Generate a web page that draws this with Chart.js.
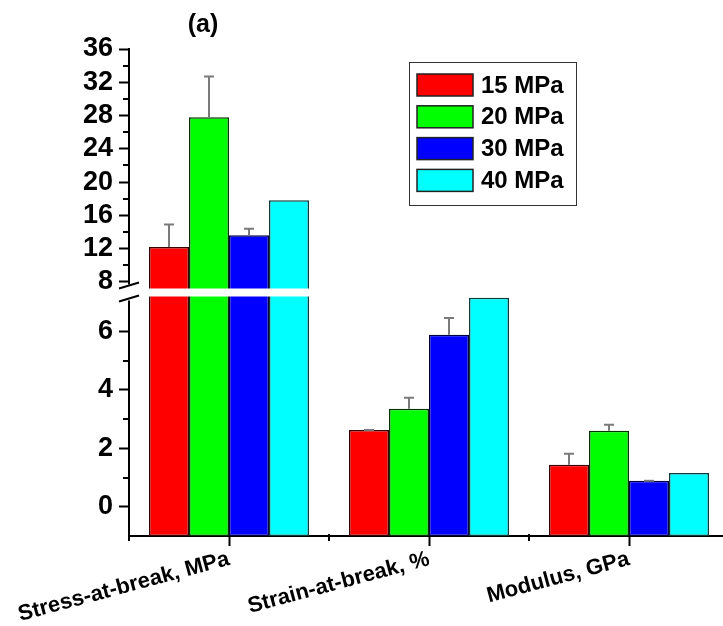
<!DOCTYPE html>
<html>
<head>
<meta charset="utf-8">
<title>Tensile properties</title>
<script src="https://cdn.jsdelivr.net/npm/chart.js@4.4.0/dist/chart.umd.min.js"></script>
<style>
  html, body { margin: 0; padding: 0; background: #fff; overflow: hidden; }
  #wrap { width: 723px; height: 626px; overflow: hidden; }
</style>
</head>
<body>
<div id="wrap"><canvas id="myChart" width="729" height="626"></canvas></div>
<script>
const categories = ['Stress-at-break, MPa', 'Strain-at-break, %', 'Modulus, GPa'];
const seriesNames = ['15 MPa', '20 MPa', '30 MPa', '40 MPa'];

const values15 = [12.2, 2.63, 1.44];
const values20 = [27.8, 3.36, 2.60];
const values30 = [13.6, 5.89, 0.89];
const values40 = [17.8, 7.16, 1.16];

const errors15 = [2.7, 0.0, 0.38];
const errors20 = [4.9, 0.37, 0.21];
const errors30 = [0.8, 0.57, 0.0];
const errors40 = [null, null, null];

const lowerTicks = [0, 2, 4, 6];
const upperTicks = [8, 12, 16, 20, 24, 28, 32, 36];
const lowerMinorTicks = [1, 3, 5];
const upperMinorTicks = [10, 14, 18, 22, 26, 30, 34];

const fills = ['#ff0000', '#00ff00', '#0000ff', '#00ffff'];
const edges = ['#3a0000', '#003300', '#000040', '#0d3b3b'];
const FONT = 'Liberation Sans, Arial, sans-serif';

// linear axis with a break: lower part min..breakAt, upper part breakAt..max
class BrokenLinearScale extends Chart.LinearScale {
  buildTicks() {
    super.buildTicks();
    return lowerTicks.concat(upperTicks).map(v => ({ value: v }));
  }
  segments() {
    const gap = this.options.breakGap;
    const lowerSpan = (this.bottom - this.top - gap) * this.options.lowerShare;
    const lowTop = this.bottom - lowerSpan;
    return { lowTop: lowTop, highBottom: lowTop - gap };
  }
  getPixelForValue(value) {
    if (value === null || value === undefined || isNaN(value)) return NaN;
    const b = this.options.breakAt;
    const s = this.segments();
    if (value <= b) {
      return this.bottom - (value - this.min) / (b - this.min) * (this.bottom - s.lowTop);
    }
    return s.highBottom - (value - b) / (this.max - b) * (s.highBottom - this.top);
  }
  getValueForPixel(pixel) {
    const b = this.options.breakAt;
    const s = this.segments();
    if (pixel >= s.lowTop) {
      return this.min + (this.bottom - pixel) / (this.bottom - s.lowTop) * (b - this.min);
    }
    return b + (s.highBottom - pixel) / (s.highBottom - this.top) * (this.max - b);
  }
}
BrokenLinearScale.id = 'brokenLinear';
BrokenLinearScale.defaults = {};
Chart.register(BrokenLinearScale);

const errorSets = [errors15, errors20, errors30, errors40];

const extras = {
  id: 'extras',
  afterDatasetsDraw(chart) {
    const ctx = chart.ctx;
    const y = chart.scales.y;
    const area = chart.chartArea;
    const s = y.segments();

    // white band across the break
    ctx.save();
    ctx.fillStyle = '#fff';
    ctx.fillRect(area.left + 2, s.highBottom, area.right - area.left, s.lowTop - s.highBottom);
    ctx.fillRect(area.left - 3, s.highBottom - 4, 6, s.lowTop - s.highBottom + 8);
    ctx.strokeStyle = '#000';
    ctx.lineWidth = 2;
    ctx.beginPath();
    ctx.moveTo(area.left - 10, s.highBottom);
    ctx.lineTo(area.left + 10, s.highBottom - 6);
    ctx.moveTo(area.left - 10, s.lowTop + 5);
    ctx.lineTo(area.left + 10, s.lowTop - 1);
    ctx.stroke();
    ctx.restore();

    // error whiskers
    ctx.save();
    ctx.strokeStyle = '#7a7a7a';
    ctx.lineWidth = 2;
    chart.data.datasets.forEach((ds, di) => {
      const meta = chart.getDatasetMeta(di);
      meta.data.forEach((bar, i) => {
        const err = errorSets[di][i];
        if (err === null) return;
        const top = y.getPixelForValue(ds.data[i] + err);
        ctx.beginPath();
        ctx.moveTo(bar.x, bar.y);
        ctx.lineTo(bar.x, top);
        ctx.moveTo(bar.x - 5, top);
        ctx.lineTo(bar.x + 5, top);
        ctx.stroke();
      });
    });
    ctx.restore();
  },
  afterDraw(chart) {
    const ctx = chart.ctx;
    const y = chart.scales.y;
    const x = chart.scales.x;
    const area = chart.chartArea;

    // minor ticks
    ctx.save();
    ctx.strokeStyle = '#000';
    ctx.lineWidth = 2;
    ctx.beginPath();
    lowerMinorTicks.concat(upperMinorTicks).forEach(v => {
      const py = Math.round(y.getPixelForValue(v));
      ctx.moveTo(area.left - 6, py);
      ctx.lineTo(area.left, py);
    });
    for (let i = 0; i <= categories.length; i++) {
      const px = Math.round(x.getPixelForValue(i - 0.5));
      ctx.moveTo(px, area.bottom - 2);
      ctx.lineTo(px, area.bottom + 5);
    }
    ctx.stroke();
    ctx.restore();

    // panel label
    ctx.save();
    ctx.fillStyle = '#000';
    ctx.font = 'bold 25px ' + FONT;
    ctx.textAlign = 'center';
    ctx.textBaseline = 'middle';
    ctx.fillText('(a)', 203, 25);
    ctx.restore();

    // legend
    ctx.save();
    const lx = 409, ly = 62;
    ctx.strokeStyle = '#333';
    ctx.lineWidth = 1;
    ctx.strokeRect(lx + 0.5, ly + 0.5, 167, 143);
    ctx.font = 'bold 24px ' + FONT;
    ctx.textBaseline = 'middle';
    chart.data.datasets.forEach((ds, di) => {
      const top = ly + 12 + di * 31.8;
      ctx.fillStyle = ds.backgroundColor;
      ctx.fillRect(lx + 8, top, 56, 22);
      ctx.strokeStyle = '#222';
      ctx.lineWidth = 1.5;
      ctx.strokeRect(lx + 8, top, 56, 22);
      ctx.fillStyle = '#000';
      ctx.fillText(ds.label, lx + 72, top + 12);
    });
    ctx.restore();
  }
};

const allValues = [values15, values20, values30, values40];

new Chart(document.getElementById('myChart'), {
  type: 'bar',
  data: {
    labels: categories,
    datasets: seriesNames.map((name, i) => ({
      label: name,
      data: allValues[i],
      base: -1,
      backgroundColor: fills[i],
      borderColor: edges[i],
      borderWidth: 1.5,
      borderSkipped: false,
      categoryPercentage: 0.8,
      barPercentage: 1.0
    }))
  },
  options: {
    responsive: false,
    animation: false,
    layout: { padding: { top: 49, left: 0, right: 0, bottom: 0 } },
    plugins: {
      legend: { display: false },
      tooltip: { enabled: false },
      title: { display: false }
    },
    scales: {
      x: {
        type: 'category',
        grid: { display: true, offset: false, drawOnChartArea: false, tickLength: 10, tickWidth: 2, tickColor: '#000' },
        border: { display: true, color: '#000', width: 2 },
        ticks: {
          color: '#000',
          font: { family: FONT, size: 22, weight: 'bold' },
          minRotation: 15,
          maxRotation: 15,
          autoSkip: false,
          padding: 0
        },
        afterFit(scale) {
          scale.height = 90;
          scale.paddingLeft = 0;
          scale.paddingRight = 0;
        }
      },
      y: {
        type: 'brokenLinear',
        min: -1,
        max: 36,
        breakAt: 7.2,
        breakGap: 8,
        lowerShare: 0.5,
        grid: { display: true, drawOnChartArea: false, tickLength: 10, tickWidth: 2, tickColor: '#000' },
        border: { display: true, color: '#000', width: 2 },
        ticks: {
          color: '#000',
          font: { family: FONT, size: 27, weight: 'bold' },
          padding: 6,
          callback: v => String(v)
        },
        afterFit(scale) { scale.width = 129; }
      }
    }
  },
  plugins: [extras]
});
</script>
</body>
</html>
